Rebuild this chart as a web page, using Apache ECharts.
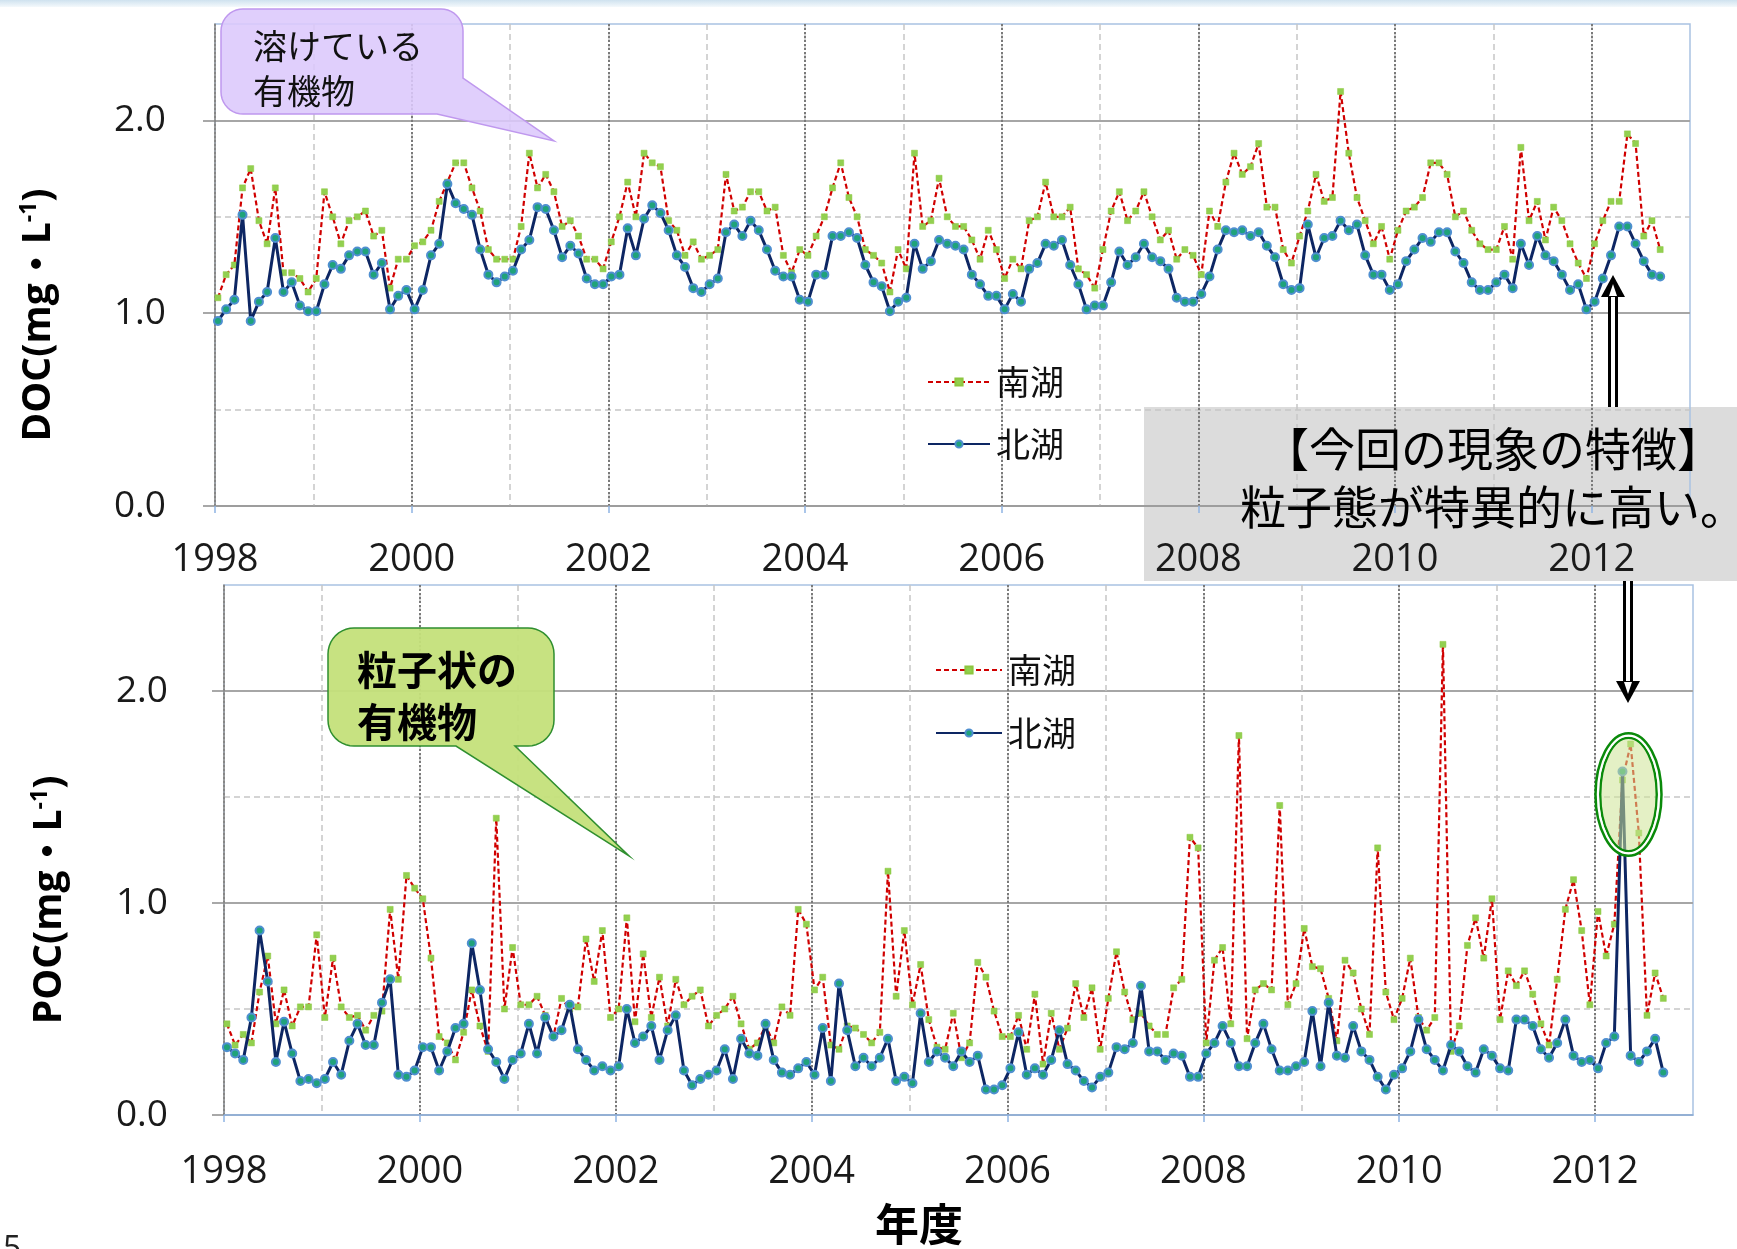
<!DOCTYPE html>
<html>
<head>
<meta charset="utf-8">
<script src="https://cdn.jsdelivr.net/npm/echarts@6/dist/echarts.min.js"></script>
<style>
  html, body { margin: 0; padding: 0; background: #ffffff; }
  #chart { width: 1737px; height: 1249px; }
</style>
</head>
<body>
<div id="chart"></div>
<script>
// Monthly samples, first one taken just after the start of 1998
const FIRST_SAMPLE = 1998.03;
const yearTicks = [1998, 2000, 2002, 2004, 2006, 2008, 2010, 2012];
const valueTicks = [0, 1, 2];
const lakeNames = ['南湖', '北湖'];

// Dissolved organic carbon, mg/L
const docSouth = [
  1.08, 1.20, 1.25, 1.65, 1.75, 1.48, 1.36, 1.65, 1.21, 1.21, 1.18, 1.11,
  1.18, 1.63, 1.50, 1.36, 1.48, 1.50, 1.53, 1.40, 1.43, 1.13, 1.28, 1.28,
  1.35, 1.37, 1.43, 1.58, 1.68, 1.78, 1.78, 1.65, 1.53, 1.33, 1.28, 1.28,
  1.28, 1.45, 1.83, 1.65, 1.72, 1.63, 1.45, 1.48, 1.40, 1.28, 1.28, 1.23,
  1.37, 1.50, 1.68, 1.50, 1.83, 1.78, 1.76, 1.48, 1.43, 1.30, 1.37, 1.28,
  1.30, 1.33, 1.72, 1.53, 1.55, 1.63, 1.63, 1.53, 1.55, 1.30, 1.21, 1.33,
  1.30, 1.40, 1.50, 1.65, 1.78, 1.60, 1.50, 1.33, 1.30, 1.26, 1.11, 1.33,
  1.23, 1.83, 1.45, 1.48, 1.70, 1.50, 1.45, 1.45, 1.38, 1.28, 1.43, 1.33,
  1.18, 1.28, 1.23, 1.48, 1.50, 1.68, 1.50, 1.50, 1.55, 1.23, 1.20, 1.13,
  1.33, 1.53, 1.63, 1.48, 1.53, 1.63, 1.50, 1.38, 1.43, 1.28, 1.33, 1.30,
  1.20, 1.53, 1.45, 1.68, 1.83, 1.72, 1.76, 1.88, 1.55, 1.55, 1.33, 1.26,
  1.40, 1.53, 1.72, 1.58, 1.60, 2.15, 1.83, 1.60, 1.48, 1.36, 1.45, 1.28,
  1.43, 1.53, 1.55, 1.60, 1.78, 1.78, 1.72, 1.50, 1.53, 1.43, 1.36, 1.33,
  1.33, 1.45, 1.28, 1.86, 1.48, 1.58, 1.38, 1.55, 1.48, 1.36, 1.26, 1.18,
  1.36, 1.48, 1.58, 1.58, 1.93, 1.88, 1.40, 1.48, 1.33
];
const docNorth = [
  0.96, 1.02, 1.07, 1.51, 0.96, 1.06, 1.11, 1.39, 1.11, 1.16, 1.04, 1.01,
  1.01, 1.15, 1.25, 1.23, 1.30, 1.32, 1.32, 1.20, 1.26, 1.02, 1.09, 1.12,
  1.02, 1.12, 1.30, 1.36, 1.67, 1.57, 1.54, 1.51, 1.33, 1.20, 1.16, 1.19,
  1.22, 1.33, 1.38, 1.55, 1.54, 1.43, 1.29, 1.35, 1.31, 1.18, 1.15, 1.15,
  1.19, 1.20, 1.44, 1.30, 1.49, 1.56, 1.52, 1.43, 1.30, 1.24, 1.13, 1.11,
  1.15, 1.18, 1.42, 1.46, 1.40, 1.48, 1.43, 1.33, 1.22, 1.19, 1.19, 1.07,
  1.06, 1.20, 1.20, 1.40, 1.40, 1.42, 1.39, 1.25, 1.16, 1.14, 1.01, 1.06,
  1.08, 1.36, 1.23, 1.27, 1.38, 1.36, 1.35, 1.33, 1.20, 1.15, 1.09, 1.09,
  1.02, 1.10, 1.06, 1.23, 1.26, 1.36, 1.35, 1.38, 1.25, 1.15, 1.02, 1.04,
  1.04, 1.16, 1.32, 1.25, 1.29, 1.36, 1.29, 1.27, 1.23, 1.08, 1.06, 1.06,
  1.10, 1.19, 1.33, 1.43, 1.42, 1.43, 1.40, 1.42, 1.35, 1.29, 1.15, 1.12,
  1.13, 1.46, 1.29, 1.39, 1.40, 1.48, 1.43, 1.46, 1.30, 1.20, 1.20, 1.12,
  1.15, 1.27, 1.33, 1.39, 1.37, 1.42, 1.42, 1.32, 1.26, 1.16, 1.12, 1.12,
  1.16, 1.20, 1.13, 1.36, 1.25, 1.40, 1.30, 1.27, 1.20, 1.12, 1.15, 1.02,
  1.06, 1.18, 1.30, 1.45, 1.45, 1.36, 1.27, 1.20, 1.19
];
// Particulate organic carbon, mg/L
const pocSouth = [
  0.43, 0.33, 0.38, 0.34, 0.58, 0.75, 0.43, 0.59, 0.42, 0.51, 0.51, 0.85,
  0.46, 0.74, 0.51, 0.46, 0.47, 0.40, 0.47, 0.49, 0.97, 0.64, 1.13, 1.07,
  1.02, 0.74, 0.37, 0.34, 0.26, 0.39, 0.59, 0.42, 0.30, 1.40, 0.50, 0.79,
  0.52, 0.52, 0.56, 0.47, 0.37, 0.55, 0.50, 0.51, 0.83, 0.63, 0.87, 0.46,
  0.50, 0.93, 0.44, 0.76, 0.46, 0.65, 0.42, 0.64, 0.52, 0.56, 0.59, 0.42,
  0.47, 0.50, 0.56, 0.43, 0.31, 0.34, 0.42, 0.34, 0.51, 0.47, 0.97, 0.90,
  0.59, 0.65, 0.33, 0.31, 0.42, 0.41, 0.38, 0.34, 0.39, 1.15, 0.56, 0.87,
  0.52, 0.71, 0.45, 0.32, 0.31, 0.48, 0.27, 0.34, 0.72, 0.65, 0.49, 0.37,
  0.37, 0.47, 0.31, 0.57, 0.24, 0.48, 0.31, 0.41, 0.62, 0.46, 0.60, 0.31,
  0.55, 0.77, 0.58, 0.45, 0.48, 0.42, 0.38, 0.38, 0.60, 0.64, 1.31, 1.26,
  0.34, 0.73, 0.79, 0.43, 1.79, 0.36, 0.59, 0.62, 0.59, 1.46, 0.52, 0.62,
  0.88, 0.70, 0.69, 0.55, 0.35, 0.73, 0.67, 0.50, 0.38, 1.26, 0.58, 0.45,
  0.55, 0.74, 0.46, 0.40, 0.46, 2.22, 0.30, 0.42, 0.80, 0.93, 0.74, 1.02,
  0.45, 0.68, 0.61, 0.68, 0.57, 0.43, 0.33, 0.64, 0.97, 1.11, 0.87, 0.52,
  0.96, 0.75, 0.90, 1.58, 1.75, 1.33, 0.47, 0.67, 0.55
];
const pocNorth = [
  0.32, 0.29, 0.26, 0.46, 0.87, 0.63, 0.25, 0.44, 0.29, 0.16, 0.17, 0.15,
  0.17, 0.25, 0.19, 0.35, 0.43, 0.33, 0.33, 0.53, 0.64, 0.19, 0.18, 0.21,
  0.32, 0.32, 0.21, 0.30, 0.41, 0.43, 0.81, 0.59, 0.31, 0.25, 0.17, 0.26,
  0.29, 0.43, 0.29, 0.46, 0.37, 0.40, 0.52, 0.31, 0.26, 0.21, 0.23, 0.21,
  0.23, 0.50, 0.34, 0.37, 0.42, 0.26, 0.40, 0.47, 0.21, 0.14, 0.17, 0.19,
  0.21, 0.31, 0.17, 0.36, 0.29, 0.28, 0.43, 0.26, 0.20, 0.19, 0.22, 0.25,
  0.19, 0.41, 0.16, 0.62, 0.40, 0.23, 0.27, 0.23, 0.27, 0.36, 0.16, 0.18,
  0.15, 0.48, 0.25, 0.30, 0.27, 0.23, 0.30, 0.25, 0.28, 0.12, 0.12, 0.14,
  0.22, 0.39, 0.19, 0.22, 0.19, 0.26, 0.40, 0.24, 0.21, 0.16, 0.13, 0.18,
  0.20, 0.32, 0.31, 0.34, 0.61, 0.30, 0.30, 0.26, 0.29, 0.28, 0.18, 0.18,
  0.29, 0.34, 0.42, 0.34, 0.23, 0.23, 0.34, 0.43, 0.31, 0.21, 0.21, 0.23,
  0.25, 0.49, 0.23, 0.53, 0.28, 0.27, 0.42, 0.30, 0.26, 0.18, 0.12, 0.19,
  0.22, 0.30, 0.45, 0.31, 0.26, 0.21, 0.33, 0.30, 0.23, 0.20, 0.31, 0.28,
  0.22, 0.21, 0.45, 0.45, 0.42, 0.31, 0.27, 0.34, 0.45, 0.28, 0.25, 0.26,
  0.22, 0.34, 0.37, 1.62, 0.28, 0.25, 0.30, 0.36, 0.20
];

const LATIN = '"Open Sans", "Noto Sans", sans-serif';
const JP = '"Noto Sans CJK JP", "Noto Sans", sans-serif';
const MIXED = '"Open Sans", "Noto Sans CJK JP", sans-serif';

function toPoints(values) {
  return values.map((v, i) => [FIRST_SAMPLE + i / 12, v]);
}

// x axes: one for the light dashed odd-year lines, one for labelled even years
function xAxesFor(grid, lineColor, labelMargin) {
  return [
    {
      type: 'value', gridIndex: grid, position: 'bottom', offset: 0,
      min: 1998, max: 2013, interval: 1,
      axisLine: { show: false }, axisTick: { show: false }, axisLabel: { show: false },
      splitLine: { show: true, showMaxLine: false,
        lineStyle: { color: '#c6c6c6', type: [6, 4], width: 1.5 } }
    },
    {
      type: 'value', gridIndex: grid, position: 'bottom', offset: 0,
      min: 1998, max: 2013, interval: 2,
      axisLine: { show: true, onZero: false, lineStyle: { color: lineColor, width: 1.5 } },
      axisTick: { show: true, length: 7, customValues: yearTicks,
        lineStyle: { color: '#8eb4e3', width: 1.5 } },
      axisLabel: { show: true, customValues: yearTicks,
        margin: labelMargin, fontSize: 38, fontFamily: LATIN, color: '#1a1a1a',
        formatter: v => String(v) },
      splitLine: { show: true,
        lineStyle: { color: '#7a7a7a', type: 'dotted', width: 2 } }
    }
  ];
}

// y axes: dashed half-unit lines underneath, solid unit lines with labels on top
function yAxesFor(grid, labelMargin) {
  return [
    {
      type: 'value', gridIndex: grid, position: 'left', offset: 0,
      min: 0, max: 2.5, interval: 0.5,
      axisLine: { show: false }, axisTick: { show: false }, axisLabel: { show: false },
      splitLine: { show: true, showMaxLine: false,
        lineStyle: { color: '#c6c6c6', type: [6, 4], width: 1.5 } }
    },
    {
      type: 'value', gridIndex: grid, position: 'left', offset: 0,
      min: 0, max: 2.5, interval: 1,
      axisLine: { show: true, onZero: false, lineStyle: { color: '#8c8c8c', width: 1.5 } },
      axisTick: { show: true, length: 12, customValues: valueTicks,
        lineStyle: { color: '#8c8c8c', width: 1.5 } },
      axisLabel: { show: true, customValues: valueTicks,
        margin: labelMargin, fontSize: 37, fontFamily: LATIN, color: '#1a1a1a',
        formatter: v => v.toFixed(1) },
      splitLine: { show: true,
        lineStyle: { color: '#a6a6a6', width: 2 } }
    }
  ];
}

const southStyle = {
  type: 'line', symbol: 'rect', symbolSize: 6, showSymbol: true, showAllSymbol: true,
  lineStyle: { color: '#d00000', width: 2.2, type: [5, 3] },
  itemStyle: { color: '#92d050', borderColor: '#8cc63f', borderWidth: 0.5 },
  z: 3
};
const northStyle = {
  type: 'line', symbol: 'circle', symbolSize: 8, showSymbol: true, showAllSymbol: true,
  lineStyle: { color: '#0d2663', width: 3 },
  itemStyle: { color: '#1fa37a', borderColor: '#4f8fd0', borderWidth: 2 },
  z: 4
};

function lakeSeries(name, style, values, axisIndex) {
  return Object.assign({}, style, {
    name: name, xAxisIndex: axisIndex, yAxisIndex: axisIndex, data: toPoints(values)
  });
}

// Rounded-corner helper for the speech bubbles
function arc(cx, cy, r, a0, a1) {
  const pts = [];
  const steps = 10;
  for (let k = 0; k <= steps; k++) {
    const a = a0 + (a1 - a0) * k / steps;
    pts.push([cx + r * Math.cos(a), cy + r * Math.sin(a)]);
  }
  return pts;
}
const PI = Math.PI;

// purple bubble with its tail leaving the lower right side
const dissolvedBubble = (function () {
  const x0 = 221, y0 = 9, x1 = 463, y1 = 114, r = 22;
  return [].concat(
    arc(x0 + r, y0 + r, r, PI, 1.5 * PI),
    arc(x1 - r, y0 + r, r, 1.5 * PI, 2 * PI),
    [[x1, 78], [554, 141], [x1 - 26, y1]],
    arc(x0 + r, y1 - r, r, 0.5 * PI, PI)
  );
})();

// green bubble with its tail leaving the bottom edge
const particleBubble = (function () {
  const x0 = 328, y0 = 628, x1 = 554, y1 = 746, r = 26;
  return [].concat(
    arc(x0 + r, y0 + r, r, PI, 1.5 * PI),
    arc(x1 - r, y0 + r, r, 1.5 * PI, 2 * PI),
    arc(x1 - r, y1 - r, r, 0, 0.5 * PI),
    [[515, y1], [629, 856], [456, y1]],
    arc(x0 + r, y1 - r, r, 0.5 * PI, PI)
  );
})();

function label(x, y, text, size, opts) {
  return Object.assign({
    type: 'text', x: x, y: y, z: 60,
    style: Object.assign({
      text: text, fontSize: size, fontFamily: JP, fill: '#111',
      align: 'left', textAlign: 'left', verticalAlign: 'middle', textVerticalAlign: 'middle'
    }, opts || {})
  });
}

function doubleArrow(x, yFrom, yTip, dir) {
  // dir = -1 points up, +1 points down
  const headLen = 22, headHalf = 12;
  const base = yTip - dir * headLen;
  const top = Math.min(yFrom, base), h = Math.abs(yFrom - base);
  return [
    { type: 'rect', z: 70, shape: { x: x - 5, y: top, width: 10, height: h }, style: { fill: '#000' } },
    { type: 'rect', z: 71, shape: { x: x - 2, y: top, width: 4, height: h }, style: { fill: '#fff' } },
    { type: 'polygon', z: 70, shape: { points: [[x, yTip], [x - headHalf, base], [x + headHalf, base]] }, style: { fill: '#000' } },
    { type: 'polygon', z: 71, shape: { points: [[x, yTip - dir * 9], [x - 4, base + dir * 1], [x + 4, base + dir * 1]] }, style: { fill: '#fff' } }
  ];
}

const legendText = { fontSize: 34, fontFamily: JP, color: '#111', padding: [0, 0, 0, 1] };

const gridBase = { show: true, borderColor: '#a9c2e2', borderWidth: 1.5,
  backgroundColor: 'transparent', containLabel: false, outerBoundsMode: 'none' };

const option = {
  animation: false,
  backgroundColor: '#ffffff',
  grid: [
    Object.assign({ left: 215, top: 24, width: 1475, height: 482 }, gridBase),
    Object.assign({ left: 224, top: 585, width: 1469, height: 530 }, gridBase)
  ],
  xAxis: [].concat(xAxesFor(0, '#9a9a9a', 35), xAxesFor(1, '#8eb4e3', 38)),
  yAxis: [].concat(yAxesFor(0, 49), yAxesFor(1, 56)),
  legend: [
    { data: lakeNames, orient: 'vertical', left: 922, top: 360, itemWidth: 62, itemHeight: 9,
      itemGap: 28, selectedMode: false, textStyle: legendText },
    { data: lakeNames, orient: 'vertical', left: 930, top: 648, itemWidth: 66, itemHeight: 9,
      itemGap: 29, selectedMode: false, textStyle: legendText }
  ],
  series: [
    lakeSeries(lakeNames[0], southStyle, docSouth, 1),
    lakeSeries(lakeNames[1], northStyle, docNorth, 1),
    lakeSeries(lakeNames[0], southStyle, pocSouth, 3),
    lakeSeries(lakeNames[1], northStyle, pocNorth, 3)
  ],
  graphic: { elements: [].concat(
    [
      // pale strip along the top edge of the slide
      { type: 'rect', z: 1, shape: { x: 0, y: 0, width: 1737, height: 7 },
        style: { fill: { type: 'linear', x: 0, y: 0, x2: 0, y2: 1,
          colorStops: [{ offset: 0, color: '#cfe2ef' }, { offset: 1, color: '#f4f9fc' }] } } },

      // axis titles
      { type: 'text', x: 39, y: 315, rotation: PI / 2, z: 60,
        style: { text: '{m|DOC(mg・L}{s|-1}{m|)}', align: 'center', textAlign: 'center',
          verticalAlign: 'middle', textVerticalAlign: 'middle',
          rich: { m: { fontSize: 39, fontWeight: 'bold', fontFamily: MIXED, fill: '#000', lineHeight: 46 },
                  s: { fontSize: 23, fontWeight: 'bold', fontFamily: MIXED, fill: '#000', lineHeight: 46, verticalAlign: 'top', padding: [2, 0, 0, 0] } } } },
      { type: 'text', x: 50, y: 900, rotation: PI / 2, z: 60,
        style: { text: '{m|POC(mg・L}{s|-1}{m|)}', align: 'center', textAlign: 'center',
          verticalAlign: 'middle', textVerticalAlign: 'middle',
          rich: { m: { fontSize: 39, fontWeight: 'bold', fontFamily: MIXED, fill: '#000', lineHeight: 46 },
                  s: { fontSize: 23, fontWeight: 'bold', fontFamily: MIXED, fill: '#000', lineHeight: 46, verticalAlign: 'top', padding: [2, 0, 0, 0] } } } },
      label(919, 1224, '年度', 44, { fontWeight: 'bold', align: 'center', textAlign: 'center', fill: '#000' }),

      // callout: dissolved matter
      { type: 'polygon', z: 55, shape: { points: dissolvedBubble },
        style: { fill: 'rgba(220,200,252,0.88)', stroke: '#bf98ee', lineWidth: 1.5 } },
      label(253, 46, '溶けている', 34),
      label(253, 91, '有機物', 34),

      // callout: particulate matter
      { type: 'polygon', z: 55, shape: { points: particleBubble },
        style: { fill: 'rgba(196,224,122,0.95)', stroke: '#2f8f2f', lineWidth: 1.5 } },
      label(357, 670, '粒子状の', 40, { fontWeight: 'bold', fill: '#000' }),
      label(357, 722, '有機物', 40, { fontWeight: 'bold', fill: '#000' }),

      // highlight around the 2012 particulate peak
      { type: 'ellipse', z: 65, shape: { cx: 1628.5, cy: 794.5, rx: 28.3, ry: 56.7 },
        style: { fill: 'rgba(206,228,150,0.55)', stroke: '#0a8a0a', lineWidth: 2.5 } },
      { type: 'ellipse', z: 65, shape: { cx: 1628.5, cy: 794.5, rx: 30.7, ry: 59 },
        style: { fill: 'none', stroke: '#ffffff', lineWidth: 2.5 } },
      { type: 'ellipse', z: 65, shape: { cx: 1628.5, cy: 794.5, rx: 33, ry: 61.3 },
        style: { fill: 'none', stroke: '#0a8a0a', lineWidth: 2.5 } },

      // note box across the lower right of the upper panel, under the axis labels
      { type: 'rect', z: -1, shape: { x: 1144, y: 407, width: 593, height: 174 },
        style: { fill: '#dcdcdc' } },
      label(1493, 449, '【今回の現象の特徴】', 46, { align: 'center', textAlign: 'center', fill: '#000' }),
      label(1493, 507, '粒子態が特異的に高い。', 46, { align: 'center', textAlign: 'center', fill: '#000' }),

      // slide page number, cut by the lower edge
      { type: 'text', x: 3, y: 1234, z: 60,
        style: { text: '5', fontSize: 32, fontFamily: LATIN, fill: '#222' } }
    ],
    doubleArrow(1613, 407, 275, -1),
    doubleArrow(1628, 581, 703, 1)
  ) }
};

const chart = echarts.init(document.getElementById('chart'), null, { renderer: 'canvas' });
chart.setOption(option);
</script>
</body>
</html>
